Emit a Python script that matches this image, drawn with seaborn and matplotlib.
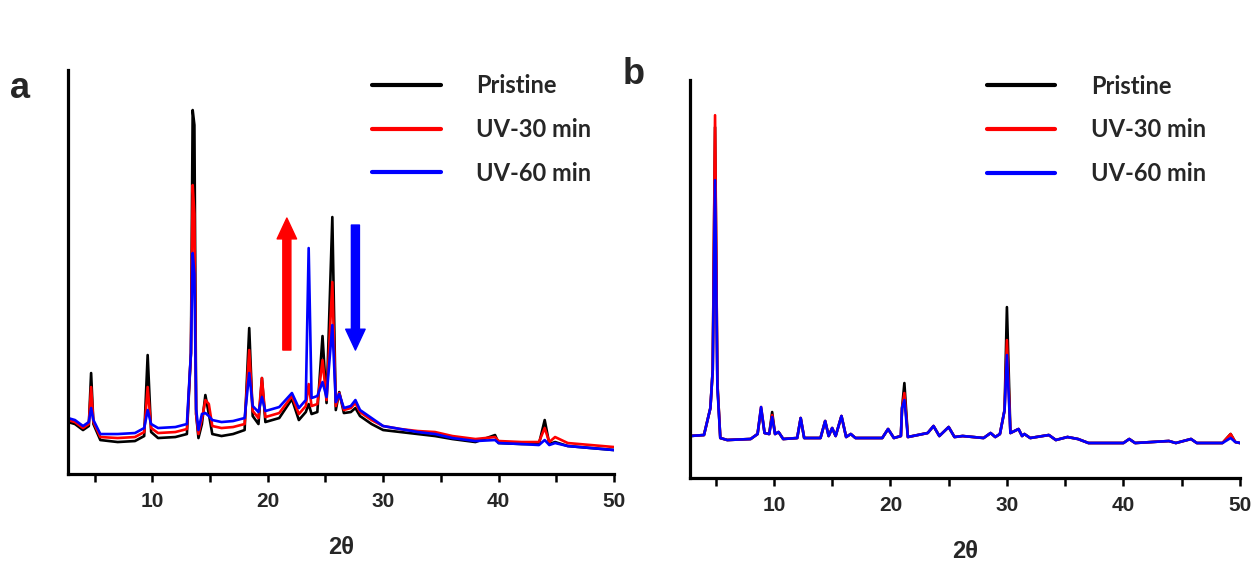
import matplotlib
matplotlib.use("Agg")
import matplotlib.pyplot as plt
import seaborn as sns
import pandas as pd

# ---- data (2theta, intensity in a.u.) ----
series_names = ["Pristine", "UV-30 min", "UV-60 min"]
series_colors = ["#000000", "#ff0000", "#0000ff"]

x_a = [2.7, 3.3, 4.0, 4.5, 4.7, 4.9, 5.5, 7.0, 8.5, 9.3, 9.6, 9.9, 10.5, 12.0, 13.0,
       13.35, 13.5, 13.65, 13.8, 14.0, 14.3, 14.6, 14.9, 15.2, 16.0, 17.0, 18.0, 18.4,
       18.7, 19.2, 19.5, 19.8, 21.0, 22.1, 22.7, 23.3, 23.55, 23.8, 24.3, 24.75, 25.1,
       25.6, 25.9, 26.2, 26.6, 27.2, 27.6, 28.0, 29.0, 30.0, 31.5, 33.0, 34.5, 36.0,
       38.0, 39.7, 40.0, 42.0, 43.5, 44.0, 44.4, 44.9, 46.0, 48.0, 50.0]
pristine_a = [52, 50, 44, 48, 101, 50, 34, 32, 33, 38, 119, 42, 36, 37, 40,
              121, 364, 349, 60, 36, 50, 79, 60, 40, 38, 40, 44, 146,
              58, 50, 96, 52, 56, 75, 54, 62, 70, 60, 62, 138, 71,
              257, 64, 82, 61, 62, 66, 58, 50, 44, 42, 40, 38, 35,
              32, 39, 31, 30, 30, 54, 30, 32, 28, 26, 24]
uv30_a = [54, 52, 46, 50, 87, 52, 37, 36, 37, 42, 87, 46, 41, 42, 45,
          121, 289, 260, 60, 40, 55, 74, 70, 48, 46, 47, 50, 124,
          63, 56, 96, 57, 61, 78, 60, 68, 90, 68, 70, 114, 74,
          192, 68, 81, 64, 66, 71, 62, 54, 48, 45, 43, 42, 38,
          35, 37, 33, 32, 32, 46, 32, 37, 31, 29, 27]
uv60_a = [56, 54, 48, 52, 66, 54, 40, 40, 41, 46, 64, 50, 46, 47, 50,
          121, 221, 200, 65, 44, 60, 61, 58, 54, 52, 53, 56, 101,
          68, 62, 77, 63, 67, 81, 66, 74, 226, 76, 78, 92, 77,
          149, 72, 80, 66, 68, 74, 64, 56, 48, 45, 42, 40, 36,
          33, 34, 31, 30, 29, 34, 29, 31, 28, 26, 24]

x_b = [2.8, 4.0, 4.55, 4.75, 4.95, 5.15, 5.4, 6.0, 8.0, 8.6, 8.9, 9.2, 9.6, 9.85,
       10.1, 10.4, 10.8, 12.0, 12.3, 12.6, 14.0, 14.4, 14.7, 15.0, 15.3, 15.8, 16.2,
       16.6, 17.0, 19.3, 19.8, 20.3, 20.9, 21.0, 21.2, 21.5, 23.2, 23.7, 24.2, 25.0,
       25.5, 26.2, 28.0, 28.6, 29.0, 29.4, 29.8, 30.0, 30.3, 31.0, 31.3, 31.5, 32.0,
       33.6, 34.2, 35.2, 36.1, 37.0, 40.0, 40.5, 41.0, 43.9, 44.5, 45.8, 46.3, 48.5,
       49.2, 49.6, 50.0]
pristine_b = [42, 43, 70, 108, 351, 95, 40, 38, 39, 44, 69, 45, 44, 66,
              44, 46, 39, 40, 60, 40, 40, 57, 42, 50, 42, 62, 41,
              44, 40, 40, 49, 40, 42, 70, 95, 41, 45, 52, 42, 51,
              41, 42, 40, 45, 41, 44, 68, 171, 45, 49, 42, 44, 40,
              43, 38, 41, 39, 35, 35, 39, 35, 37, 35, 39, 35, 35,
              44, 36, 35]
uv30_b = [42, 43, 70, 108, 363, 95, 40, 38, 39, 44, 71, 45, 44, 63,
          44, 46, 39, 40, 60, 40, 40, 57, 42, 50, 42, 62, 41,
          44, 40, 40, 49, 40, 42, 70, 85, 41, 45, 52, 42, 51,
          41, 42, 40, 45, 41, 44, 68, 138, 45, 49, 42, 44, 40,
          43, 38, 41, 39, 35, 35, 39, 35, 37, 35, 39, 35, 35,
          44, 36, 35]
uv60_b = [42, 43, 70, 108, 298, 91, 40, 38, 39, 44, 71, 45, 44, 61,
          44, 46, 39, 40, 60, 40, 40, 57, 42, 50, 42, 62, 41,
          44, 40, 40, 49, 40, 42, 70, 78, 41, 45, 52, 42, 51,
          41, 42, 40, 45, 41, 44, 68, 123, 45, 49, 42, 44, 40,
          43, 38, 41, 39, 35, 35, 39, 35, 37, 35, 39, 35, 35,
          40, 36, 35]


def long_table(x, cols):
    frames = []
    for name, y in zip(series_names, cols):
        frames.append(pd.DataFrame({"two_theta": x, "intensity": y, "sample": name}))
    return pd.concat(frames, ignore_index=True)


df_a = long_table(x_a, [pristine_a, uv30_a, uv60_a])
df_b = long_table(x_b, [pristine_b, uv30_b, uv60_b])

sns.set_theme(style="ticks")
plt.rcParams["font.family"] = ["Liberation Sans Narrow", "Liberation Sans", "DejaVu Sans"]

fig = plt.figure(figsize=(12.55, 5.65), dpi=100)
ax_a = fig.add_axes([0.0542, 0.161, 0.4350, 0.715])
ax_b = fig.add_axes([0.5498, 0.154, 0.4382, 0.704])

palette = dict(zip(series_names, series_colors))

panels = [(ax_a, df_a, (2.7, 50), (0, 404), (0.557, 0.99)),
          (ax_b, df_b, (2.8, 50), (0, 398), (0.54, 1.014))]
for ax, df, xlim, ylim, leg_anchor in panels:
    sns.lineplot(data=df, x="two_theta", y="intensity", hue="sample", palette=palette,
                 estimator=None, sort=False, linewidth=1.9, ax=ax)
    ax.set_xlim(*xlim)
    ax.set_ylim(*ylim)
    sns.despine(ax=ax)
    for s in ["left", "bottom"]:
        ax.spines[s].set_linewidth(2.3)
        ax.spines[s].set_color("black")
    ax.set_yticks([])
    ax.set_ylabel("")
    ax.set_xticks([10, 20, 30, 40, 50])
    ax.set_xticks([5, 15, 25, 35, 45], minor=True)
    ax.tick_params(axis="x", which="both", direction="out", length=6, width=1.8,
                   color="black", labelsize=15, pad=7)
    for lab in ax.get_xticklabels():
        lab.set_fontweight("bold")
    ax.set_xlabel("2θ", fontsize=17, fontweight="bold", labelpad=18)
    leg = ax.legend(loc="upper left", frameon=False,
                    prop={"family": ["Lato", "DejaVu Sans"], "weight": "bold", "size": 17},
                    handlelength=2.9, handletextpad=1.5, labelspacing=0.88,
                    borderpad=0, borderaxespad=0, bbox_to_anchor=leg_anchor)
    for line in leg.get_lines():
        line.set_linewidth(3)

# arrows in panel a
ax_a.annotate("", xy=(21.66, 256), xytext=(21.66, 124),
              arrowprops=dict(arrowstyle="simple,head_width=14,head_length=15,tail_width=5.8",
                              color="#ff0000", mutation_scale=1, shrinkA=0, shrinkB=0))
ax_a.annotate("", xy=(27.6, 124), xytext=(27.6, 249),
              arrowprops=dict(arrowstyle="simple,head_width=14,head_length=15,tail_width=5.8",
                              color="#0000ff", mutation_scale=1, shrinkA=0, shrinkB=0))

fig.text(0.008, 1 - 88 / 565, "a", fontsize=26, fontweight="bold",
         family=["Liberation Sans", "DejaVu Sans"], va="center")
fig.text(0.496, 1 - 75 / 565, "b", fontsize=26, fontweight="bold",
         family=["Liberation Sans", "DejaVu Sans"], va="center")

fig.savefig("out.png", dpi=100)
